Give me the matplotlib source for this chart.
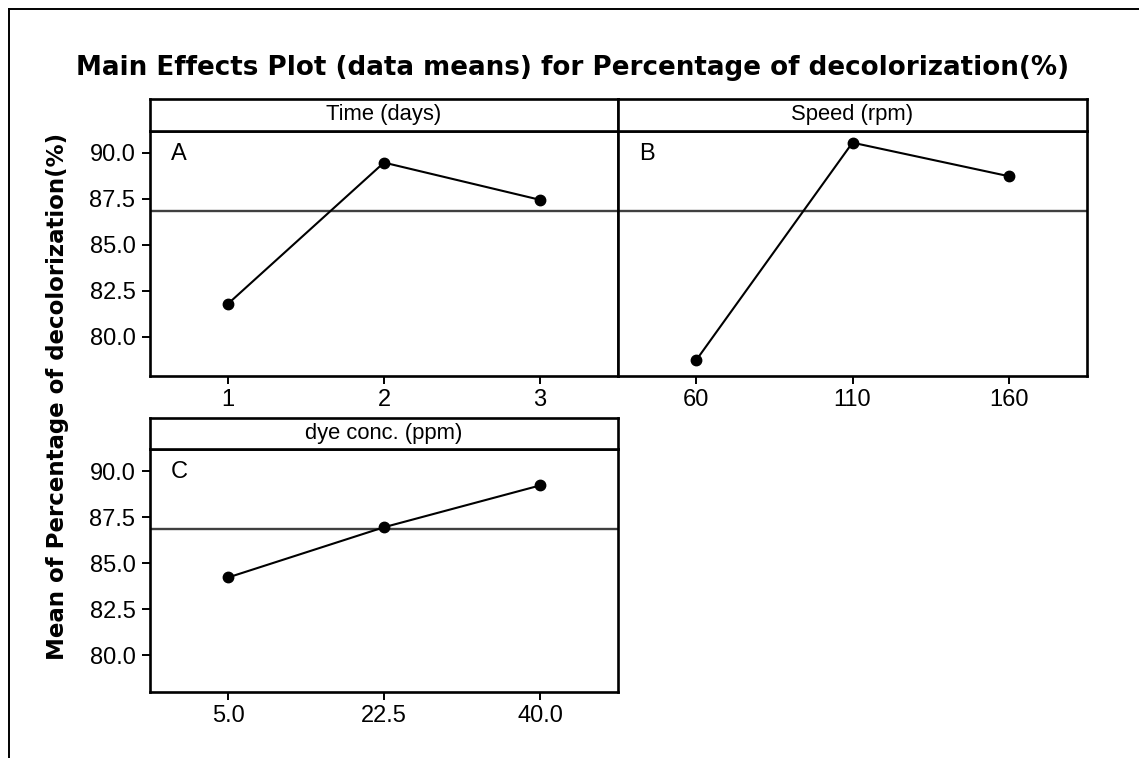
import matplotlib
matplotlib.use("Agg")
import matplotlib.pyplot as plt
from matplotlib.lines import Line2D

# Factor levels and mean response at each level
time_levels = ["1", "2", "3"]
time_means = [81.80, 89.46, 87.44]

speed_levels = ["60", "110", "160"]
speed_means = [78.74, 90.54, 88.72]

dye_levels = ["5.0", "22.5", "40.0"]
dye_means = [84.22, 86.95, 89.22]

grand_mean = 86.83

factor_names = ["Time (days)", "Speed (rpm)", "dye conc. (ppm)"]
panel_letters = ["A", "B", "C"]
y_ticks = [80.0, 82.5, 85.0, 87.5, 90.0]

W, H = 1139, 758
fig = plt.figure(figsize=(W / 100, H / 100), dpi=100)
fig.patch.set_facecolor("white")

label_font = ["Liberation Sans", "DejaVu Sans"]
bold_font = ["DejaVu Sans"]


def px_rect(x0, y0, x1, y1):
    return [x0 / W, 1 - y1 / H, (x1 - x0) / W, (y1 - y0) / H]


# outer frame (top and left edges)
fig.add_artist(Line2D([9 / W, 9 / W], [0, 1 - 9 / H], color="black", lw=1.4,
                      transform=fig.transFigure))
fig.add_artist(Line2D([9 / W, 1], [1 - 9 / H, 1 - 9 / H], color="black", lw=1.4,
                      transform=fig.transFigure))

panels = [
    # levels, means, plot box (px), strip top, ylim, show y ticks
    (time_levels, time_means, (150, 130.5, 618, 375.7), 99, (77.9, 91.2), True),
    (speed_levels, speed_means, (618, 130.5, 1087, 375.7), 99, (77.9, 91.2), False),
    (dye_levels, dye_means, (150, 449, 618, 692), 418, (78.0, 91.2), True),
]

for i, (levels, means, box, strip_top, ylim, show_y) in enumerate(panels):
    x0, y0, x1, y1 = box
    ax = fig.add_axes(px_rect(x0, y0, x1, y1))
    pos = list(range(1, len(levels) + 1))
    ax.axhline(grand_mean, color="#404040", lw=1.7, zorder=1)
    ax.plot(pos, means, color="black", lw=1.5, marker="o", markersize=7.5,
            zorder=3)
    ax.set_xlim(0.5, len(levels) + 0.5)
    ax.set_ylim(*ylim)
    ax.set_xticks(pos)
    ax.set_xticklabels(levels, family=label_font, fontsize=17)
    ax.set_yticks(y_ticks)
    if show_y:
        ax.set_yticklabels([f"{v:.1f}" for v in y_ticks], family=label_font,
                           fontsize=17)
        ax.tick_params(axis="y", length=5.5, width=1.4, pad=5)
    else:
        ax.tick_params(axis="y", left=False, labelleft=False)
    ax.tick_params(axis="x", length=5.5, width=1.4, pad=4)
    for sp in ax.spines.values():
        sp.set_linewidth(1.9)
    ax.text(0.045, 0.95, panel_letters[i], transform=ax.transAxes,
            ha="left", va="top", family=label_font, fontsize=17)

    # strip header with the factor name
    sax = fig.add_axes(px_rect(x0, strip_top, x1, y0))
    sax.set_xticks([])
    sax.set_yticks([])
    for sp in sax.spines.values():
        sp.set_linewidth(1.9)
    sax.text(0.5, 0.5, factor_names[i], transform=sax.transAxes,
             ha="center", va="center", family=label_font, fontsize=15.8)

fig.text(573 / W, 1 - 68 / H,
         "Main Effects Plot (data means) for Percentage of decolorization(%)",
         ha="center", va="center", family=bold_font, fontweight="bold",
         fontsize=18.8)
fig.text(58 / W, 1 - 396 / H, "Mean of Percentage of decolorization(%)",
         ha="center", va="center", rotation=90, family=bold_font,
         fontweight="bold", fontsize=16.5)

fig.savefig("out.png", dpi=100, facecolor="white")
